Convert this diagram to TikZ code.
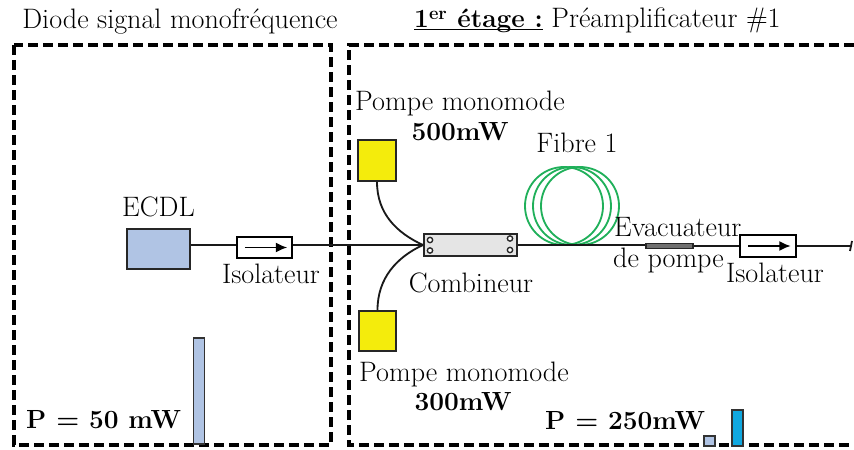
\documentclass[tikz,border=0pt]{standalone}
\usepackage{tikz}
\usetikzlibrary{arrows.meta,positioning,calc}
\usepackage{xcolor}
\definecolor{ecdlblue}{RGB}{176,196,228}
\definecolor{pumpyellow}{RGB}{244,236,12}
\definecolor{fibregreen}{RGB}{32,176,90}
\definecolor{combgray}{RGB}{229,229,229}
\definecolor{dumpgray}{RGB}{112,112,112}
\definecolor{ampcyan}{RGB}{16,168,224}
\newcommand{\boldval}[1]{{\fontsize{22.4}{26}\selectfont\textbf{#1}}}

\begin{document}
\begin{tikzpicture}[
  x=0.03cm, y=-0.03cm,
  font=\fontsize{24}{28}\selectfont,
  every node/.style={inner sep=0pt},
  zone/.style={line width=1.25mm, dash pattern=on 3.1mm off 1.4mm},
  block/.style={draw=black!85, line width=0.6mm, minimum width=#1},
  isol/.style={draw=black, line width=0.6mm, fill=white, minimum width=1.66cm, minimum height=0.63cm},
  hole/.style={circle, draw=black!85, line width=0.4mm, fill=white, minimum size=0.16cm},
  coil/.style={circle, draw=fibregreen, line width=0.55mm, minimum size=2.34cm},
  bar/.style={draw=black!80, line width=0.55mm, anchor=south, minimum width=0.33cm},
  fib/.style={line width=0.55mm, color=black!90},
  arr/.style={-{Latex[length=3.4mm,width=3mm]}, line width=0.5mm}]
\useasboundingbox (0,0) rectangle (854,450);
% zones
\node[anchor=base] (titlea) at (180,29) {Diode signal monofréquence};
\node[anchor=base west] (titleb) at (414,28) {\underline{\smash{\boldval{1\textsuperscript{er} étage :}}} Préamplificateur \#1};
\draw[zone] (14,45) rectangle (331,445);
\draw[zone] (854,45) -- (349,45) -- (349,445) -- (854,445);
% signal diode
\node[block=1.89cm, minimum height=1.2cm, fill=ecdlblue] (ecdl) at (158.5,249) {};
\node[above=0.32cm of ecdl] (ecdltxt) {ECDL};
\node[isol] (isoa) at (264.5,247.5) {};
\node[anchor=base] (isoatxt) at (271,283) {Isolateur};
% first stage
\node[block=1.13cm, minimum height=1.22cm, fill=pumpyellow] (pumpa) at (377,160.5) {};
\node[block=1.11cm, minimum height=1.2cm, fill=pumpyellow] (pumpb) at (377.5,331) {};
\node[anchor=base] (pumpatxt) at (460,111) {Pompe monomode};
\node[anchor=base] (pumpapow) at (460,140) {\boldval{500mW}};
\node[anchor=base] (pumpbtxt) at (464,381) {Pompe monomode};
\node[anchor=base] (pumpbpow) at (463,410) {\boldval{300mW}};
\node[block=2.79cm, minimum height=0.66cm, fill=combgray] (comb) at (470.5,245) {};
\node[anchor=base] (combtxt) at (471,292) {Combineur};
\foreach \hx/\hy [count=\i] in {430/240, 430/250.5, 510/238.5, 510/250}
  \node[hole] (hole\i) at (\hx,\hy) {};
\node[coil] (coila) at (564,206) {};
\node[coil] (coilb) at (572,206) {};
\node[coil] (coilc) at (580,206) {};
\node[anchor=base] (fibretxt) at (577,153) {Fibre 1};
\node[draw=black!85, line width=0.5mm, fill=dumpgray, minimum width=1.41cm, minimum height=0.15cm] (dump) at (669.5,246) {};
\node[anchor=base west] (dumptxta) at (614,237) {Evacuateur};
\node[anchor=base west] (dumptxtb) at (613,267) {de pompe};
\node[isol] (isob) at (768,246) {};
\node[anchor=base] (isobtxt) at (775,282) {Isolateur};
\coordinate (out) at (851,246);
% powers
\node[anchor=base west] (pa) at (26,428) {\boldval{P = 50 mW}};
\node[bar, minimum height=3.18cm, fill=ecdlblue] (bara) at (199,445) {};
\node[anchor=base west] (pb) at (545,429) {\boldval{P = 250mW}};
\node[bar, minimum height=0.3cm, fill=ecdlblue] (barb) at (709.5,447) {};
\node[bar, minimum height=1.08cm, fill=ampcyan] (barc) at (737.5,447) {};
% fibres
\draw[fib] (ecdl.east |- comb.west) -- (isoa.west |- comb.west);
\draw[fib] (isoa.east |- comb.west) -- (comb.west);
\draw[fib] (comb.east) -- (comb.east -| dump.west);
\draw[fib] (dump.east) -- (isob.west);
\draw[fib] (isob.east) -- (out);
\draw[fib] ($(out)+(-1,5)$) -- ($(out)+(1,-5)$);
\draw[fib] (pumpa.south) .. controls ($(pumpa.south)+(0,32)$) and ($(comb.west)+(-26,-12)$) .. (comb.west);
\draw[fib] (pumpb.north) .. controls ($(pumpb.north)+(0,-32)$) and ($(comb.west)+(-26,12)$) .. (comb.west);
\draw[arr] ($(isoa.west)+(9,0)$) -- ($(isoa.east)+(-6,0)$);
\draw[arr] ($(isob.west)+(9,0)$) -- ($(isob.east)+(-6,0)$);
\end{tikzpicture}
\end{document}
